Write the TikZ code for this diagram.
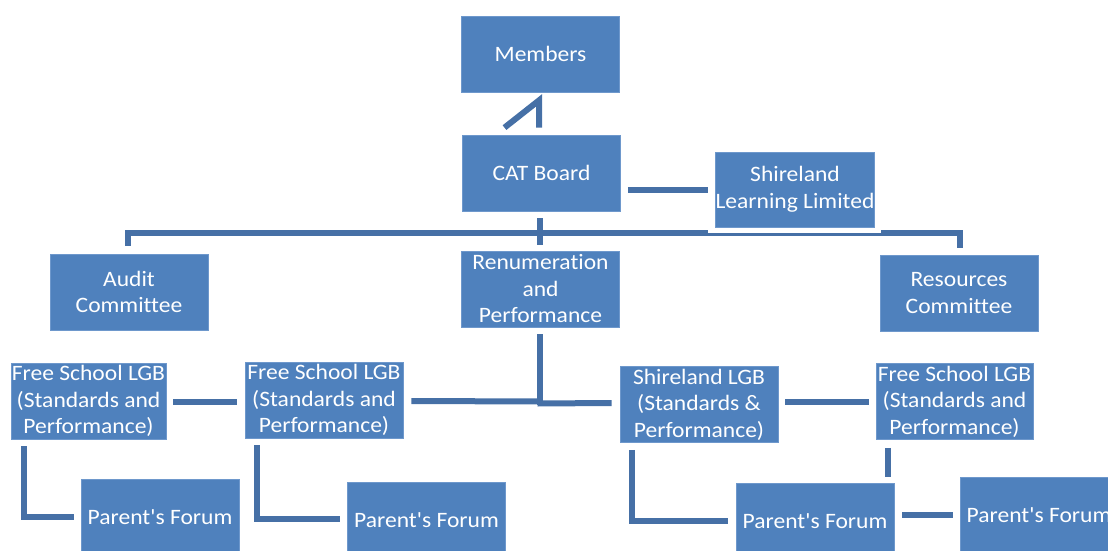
\documentclass[tikz,border=0pt]{standalone}
\usepackage{fontspec}
\setmainfont{Carlito}[FakeStretch=1.07, Ligatures={CommonOff,TeXOff}, RawFeature={-liga;-clig}]
\usetikzlibrary{calc}
\definecolor{boxblue}{HTML}{4F81BD}
\definecolor{boxedge}{HTML}{6E98CC}
\definecolor{linkblue}{HTML}{4670A6}
\pgfdeclarelayer{bg}
\pgfdeclarelayer{mid}
\pgfsetlayers{bg,mid,main}
\begin{document}
\begin{tikzpicture}[x=1pt,y=-1pt,
  box/.style={rectangle, fill=boxblue, draw=boxedge, line width=0.8pt, text=white,
    minimum width=158pt, minimum height=76pt, inner sep=0pt, align=center,
    font=\fontsize{22}{26.5}\selectfont},
  conn/.style={draw=linkblue, line width=6pt, line join=miter}]
\useasboundingbox (0,0) rectangle (1108,551);

% nodes
\node[box] (members) at (540.5,54) {Members};
\node[box] (cat) at (541.5,173) {CAT Board};
\node[box, minimum height=75pt] (sll) at (795,189.5) {Shireland\\Learning Limited};
\node[box] (audit) at (129,292) {Audit\\Committee};
\node[box] (renum) at (540.5,289) {Renumeration\\and\\Performance};
\node[box] (res) at (959,293) {Resources\\Committee};
\node[box, minimum width=155pt] (fs1) at (88.5,401) {Free School LGB\\(Standards and\\Performance)};
\node[box] (fs2) at (324,400) {Free School LGB\\(Standards and\\Performance)};
\node[box] (slgb) at (699,404.5) {Shireland LGB\\(Standards \&\\Performance)};
\node[box, minimum width=157pt] (fs4) at (954.5,401.5) {Free School LGB\\(Standards and\\Performance)};
\node[box] (pf1) at (160,517) {Parent's Forum};
\node[box] (pf2) at (426.5,520) {Parent's Forum};
\node[box] (pf3) at (815,521) {Parent's Forum};
\node[box] (pf4) at (1039,515) {Parent's Forum};

\begin{pgfonlayer}{bg}
% Members -- CAT Board
\draw[conn] ($(cat.north)+(-37,-7)$) -- ($(members.south)+(-1.5,8)$) -- ($(cat.north)+(-2.5,-7)$);
% CAT Board -- Shireland Learning Limited
\draw[conn] ($(cat.east |- sll.west)+(7,0)$) -- ($(sll.west)+(-7,0)$);
% CAT Board -- Renumeration
\draw[conn] ($(cat.south)+(-1.5,7)$) -- ($(cat.south |- renum.north)+(-1.5,-6)$);
% bus to committees
\draw[conn] ($(audit.north)+(-1,-8)$) -- ($(audit.north |- 0,233)+(-1,0)$)
  -- ($(res.north |- 0,233)+(1,0)$) -- ($(res.north)+(1,-7)$);
% Renumeration -- LGBs
\coordinate (j) at ($(renum.south |- 0,402)$);
\draw[conn] ($(renum.south)+(-0.5,7)$) -- ($(j)+(-0.5,3)$);
\draw[conn] ($(fs2.east)+(8,1)$) -- ($(j)+(0,-0.5)$);
\draw[conn] ($(j)+(-3,1.5)$) -- ($(slgb.west)+(-8,-1.5)$);
% LGB -- LGB
\draw[conn] ($(fs1.east)+(7,1)$) -- ($(fs2.west)+(-8,2)$);
\draw[conn] ($(slgb.east)+(7,-2.5)$) -- ($(fs4.west)+(-7,0.5)$);
% LGBs -- Parent's Forums
\draw[conn] ($(fs1.south west)+(13,7)$) |- ($(pf1.west)+(-7,0)$);
\draw[conn] ($(fs2.south west)+(12,7)$) |- ($(pf2.west)+(-7,-1)$);
\draw[conn] ($(slgb.south west)+(12,7)$) |- ($(pf3.west)+(-8,0)$);
\coordinate (f4) at ($(fs4.south)+(-66.5,8)$);
\draw[conn] (f4) -- ($(f4 |- pf3.north)+(0,-6)$);
\draw[conn] ($(pf3.east |- pf4.west)+(8,0)$) -- ($(pf4.west)+(-7,0)$);
\end{pgfonlayer}

\begin{pgfonlayer}{mid}
\fill[white] ($(sll.north west)+(-7,-3)$) rectangle ($(sll.south east)+(6,5.5)$);
\end{pgfonlayer}
\end{tikzpicture}
\end{document}
